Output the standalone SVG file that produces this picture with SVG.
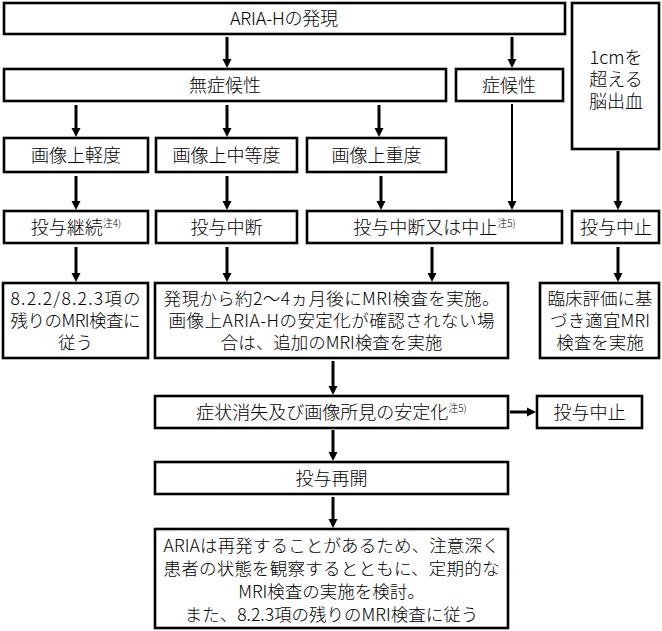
<svg xmlns="http://www.w3.org/2000/svg" width="662" height="631" viewBox="0 0 662 631">
<defs>
<marker id="ah" markerUnits="userSpaceOnUse" markerWidth="10" markerHeight="10" refX="0" refY="5" orient="auto">
<path d="M0,0.5 L9,5 L0,9.5 z" fill="#000"/>
</marker>
<style>
rect{fill:#fff;stroke:#000;stroke-width:2.6}
text{font-family:"Noto Sans CJK JP","Noto Sans CJK SC",sans-serif;font-size:18px;font-weight:300;fill:#000;text-anchor:middle}
.m{font-size:17.5px}
.sup{font-size:10px}
.c line{stroke:#000;stroke-width:3}
.c line.t{stroke-width:2}
</style>
</defs>
<g class="c" id="connectors">
<line x1="227" y1="37" x2="227" y2="59" marker-end="url(#ah)"/>
<line x1="512" y1="37" x2="512" y2="59" marker-end="url(#ah)"/>
<line x1="76" y1="105" x2="76" y2="128" marker-end="url(#ah)"/>
<line x1="227" y1="105" x2="227" y2="128" marker-end="url(#ah)"/>
<line x1="379" y1="105" x2="379" y2="128" marker-end="url(#ah)"/>
<line class="t" x1="512" y1="104" x2="512" y2="201" marker-end="url(#ah)"/>
<line x1="618" y1="151" x2="618" y2="201" marker-end="url(#ah)"/>
<line x1="76" y1="176" x2="76" y2="201" marker-end="url(#ah)"/>
<line x1="227" y1="176" x2="227" y2="201" marker-end="url(#ah)"/>
<line x1="381" y1="176" x2="381" y2="201" marker-end="url(#ah)"/>
<line x1="76" y1="247" x2="76" y2="273" marker-end="url(#ah)"/>
<line x1="227" y1="247" x2="227" y2="273" marker-end="url(#ah)"/>
<line x1="432" y1="247" x2="432" y2="273" marker-end="url(#ah)"/>
<line x1="618" y1="247" x2="618" y2="273" marker-end="url(#ah)"/>
<line x1="333" y1="361" x2="333" y2="386" marker-end="url(#ah)"/>
<line x1="510" y1="412" x2="527" y2="412" marker-end="url(#ah)"/>
<line x1="333" y1="430" x2="333" y2="452" marker-end="url(#ah)"/>
<line x1="333" y1="497" x2="333" y2="519" marker-end="url(#ah)"/>
</g>
<g id="n1"><rect x="4" y="3" width="561" height="31"/><text x="284" y="25" textLength="108">ARIA-Hの発現</text></g>
<g id="n2"><rect x="4" y="69" width="442" height="32"/><text x="225" y="92">無症候性</text></g>
<g id="n3"><rect x="456" y="69" width="107" height="32"/><text x="509" y="92">症候性</text></g>
<g id="n4"><rect x="572" y="3" width="87" height="146"/><text x="616" y="64">1cmを</text><text x="616" y="86">超える</text><text x="616" y="108">脳出血</text></g>
<g id="n5"><rect x="4" y="138" width="144" height="34"/><text x="76" y="162">画像上軽度</text></g>
<g id="n6"><rect x="156" y="138" width="141" height="34"/><text x="226.5" y="162">画像上中等度</text></g>
<g id="n7"><rect x="307" y="138" width="139" height="34"/><text x="376.5" y="162">画像上重度</text></g>
<g id="n8"><rect x="4" y="211" width="144" height="32"/><text x="76" y="234">投与継続<tspan class="sup" dy="-7">注4)</tspan></text></g>
<g id="n9"><rect x="156" y="211" width="141" height="32"/><text x="226.5" y="234">投与中断</text></g>
<g id="n10"><rect x="307" y="211" width="255" height="32"/><text x="434.5" y="234">投与中断又は中止<tspan class="sup" dy="-7">注5)</tspan></text></g>
<g id="n11"><rect x="572" y="211" width="87" height="32"/><text x="616" y="234">投与中止</text></g>
<g id="n12"><rect x="3" y="283" width="145" height="75"/><text class="m" x="75.5" y="305" textLength="130">8.2.2/8.2.3項の</text><text class="m" x="75.5" y="327" textLength="130">残りのMRI検査に</text><text class="m" x="75.5" y="349">従う</text></g>
<g id="n13"><rect x="155" y="283" width="353" height="75"/><text class="m" x="331.5" y="305" textLength="336">発現から約2～4ヵ月後にMRI検査を実施。</text><text class="m" x="331.5" y="327" textLength="326">画像上ARIA-Hの安定化が確認されない場</text><text class="m" x="331.5" y="349">合は、追加のMRI検査を実施</text></g>
<g id="n14"><rect x="540" y="283" width="119" height="75"/><text class="m" x="600" y="305">臨床評価に基</text><text class="m" x="600" y="327" textLength="100">づき適宜MRI</text><text class="m" x="600" y="349">検査を実施</text></g>
<g id="n15"><rect x="155" y="396" width="353" height="32"/><text x="331.5" y="419">症状消失及び画像所見の安定化<tspan class="sup" dy="-7">注5)</tspan></text></g>
<g id="n16"><rect x="537" y="396" width="105" height="32"/><text x="589.5" y="419">投与中止</text></g>
<g id="n17"><rect x="155" y="462" width="353" height="32"/><text x="331.5" y="485">投与再開</text></g>
<g id="n18"><rect x="155" y="529" width="353" height="99"/><text class="m" x="331.5" y="552" textLength="336">ARIAは再発することがあるため、注意深く</text><text class="m" x="331.5" y="575" textLength="336">患者の状態を観察するとともに、定期的な</text><text class="m" x="331.5" y="598">MRI検査の実施を検討。</text><text class="m" x="331.5" y="621">また、8.2.3項の残りのMRI検査に従う</text></g>
</svg>
